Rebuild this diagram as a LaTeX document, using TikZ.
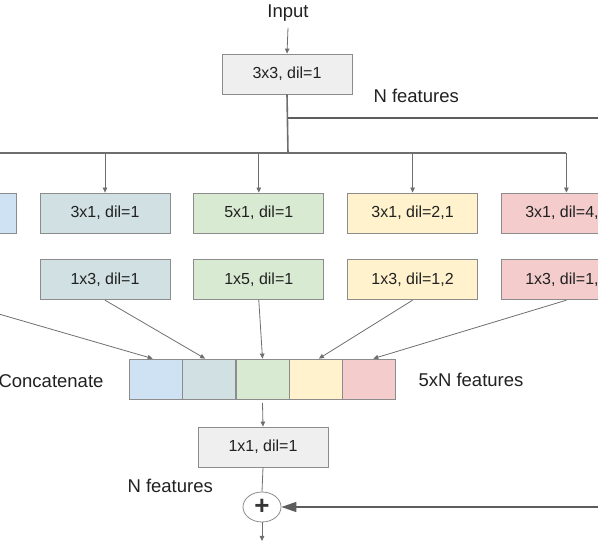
\documentclass[tikz,border=0pt]{standalone}
\usepackage{fontspec}
\setmainfont{Liberation Sans}
\usepackage{tikz}
\usetikzlibrary{positioning,matrix,arrows.meta,shapes.geometric}

\definecolor{boxgray}{HTML}{EFEFEF}
\definecolor{cblue}{HTML}{CFE2F3}
\definecolor{cteal}{HTML}{D0E0E3}
\definecolor{cgreen}{HTML}{D9EAD3}
\definecolor{cyellow}{HTML}{FFF2CC}
\definecolor{cred}{HTML}{F4CCCC}
\definecolor{edgegray}{HTML}{8C8C8C}
\definecolor{linegray}{HTML}{6E6E6E}
\definecolor{txt}{HTML}{212121}

\begin{document}
\begin{tikzpicture}[x=1pt,y=-1pt,
        conv/.style={draw=edgegray, line width=0.8pt, minimum width=130pt, minimum height=40pt,
            inner sep=0pt, font=\fontsize{16}{18}\selectfont, text=txt},
        lbl/.style={font=\fontsize{18.5}{22}\selectfont, text=txt},
        link/.style={draw=linegray, line width=0.8pt, -{Triangle[length=5pt,width=4.5pt]}},
        trunk/.style={draw=linegray, line width=1.6pt}]
        \useasboundingbox (0,0) rectangle (598,553);
        \clip (0,0) rectangle (598,553);

        % stem
        \node[lbl] (input) at (288,13) {Input};
        \node[conv, fill=boxgray] (stem) at (287,74) {3x3, dil=1};
        \node[lbl, anchor=west] (nstem) at (370,96) {N features};

        % branches
        \node[conv, fill=cteal] (b2a) at (105,213) {3x1, dil=1};
        \node[conv, fill=cblue, left=23pt of b2a] (b1a) {};
        \node[conv, fill=cgreen, right=23pt of b2a] (b3a) {5x1, dil=1};
        \node[conv, fill=cyellow, right=23pt of b3a] (b4a) {3x1, dil=2,1};
        \node[conv, fill=cred, right=23pt of b4a] (b5a) {3x1, dil=4,1};
        \node[conv, fill=cteal, below=26pt of b2a] (b2b) {1x3, dil=1};
        \node[conv, fill=cgreen, below=26pt of b3a] (b3b) {1x5, dil=1};
        \node[conv, fill=cyellow, below=26pt of b4a] (b4b) {1x3, dil=1,2};
        \node[conv, fill=cred, below=26pt of b5a] (b5b) {1x3, dil=1,4};

        % concatenation
        \matrix (cat) [matrix of nodes, nodes in empty cells,
            nodes={draw=edgegray, line width=0.8pt, minimum width=53pt, minimum height=40pt},
            column sep=-\pgflinewidth] at (262.5,379) {
                |[fill=cblue]| & |[fill=cteal]| & |[fill=cgreen]| & |[fill=cyellow]| & |[fill=cred]| \\};
        \node[lbl, anchor=east] (ncat) at (107,381) {Concatenate};
        \node[lbl, anchor=west] (nfive) at (415,380) {5xN features};

        \node[conv, fill=boxgray] (fuse) at (263,447) {1x1, dil=1};
        \node[lbl, anchor=west] (nfuse) at (124,486) {N features};
        \node[ellipse, draw=edgegray, line width=0.8pt, fill=white, minimum width=38pt,
            minimum height=30pt, inner sep=0pt] (plus) at (262,507)
            {\fontsize{26}{26}\selectfont\bfseries\textcolor{txt!80!gray}{+}};

        \coordinate (fork) at (288,153);
        \coordinate (skip) at (288,118);
        \coordinate (skipR) at (640,118);
        \coordinate (bluetail) at (b1a.south |- b2b.south);
        \coordinate (out) at (262,541);

        % connectors
        \draw[link] ([yshift=-3pt]input.south) -- (stem.north);
        \draw[trunk] (stem.south) -- (fork);
        \draw[trunk] (b1a.north |- fork) -- (b5a.north |- fork);
        \foreach \b in {b1a,b2a,b3a,b4a,b5a}
            \draw[link] (\b.north |- fork) -- (\b.north);
        \draw[link] (b1a.south) -- (bluetail) -- ([xshift=-3pt]cat-1-1.north);
        \draw[link] (b2b.south) -- ([xshift=-4pt]cat-1-2.north);
        \draw[link] (b3b.south) -- (cat-1-3.north);
        \draw[link] (b4b.south) -- ([xshift=3pt]cat-1-4.north);
        \draw[link] (b5b.south) -- ([xshift=4pt]cat-1-5.north);
        \draw[link] (cat.south) -- (fuse.north);
        \draw[draw=linegray, line width=0.8pt] (fuse.south) -- (plus.north);
        \draw[link] (plus.south) -- (out);
        \draw[trunk, draw=linegray!85!black, -{Triangle[length=15pt,width=10pt]}]
            (skip) -- (skipR) |- (plus.east);
\end{tikzpicture}
\end{document}
